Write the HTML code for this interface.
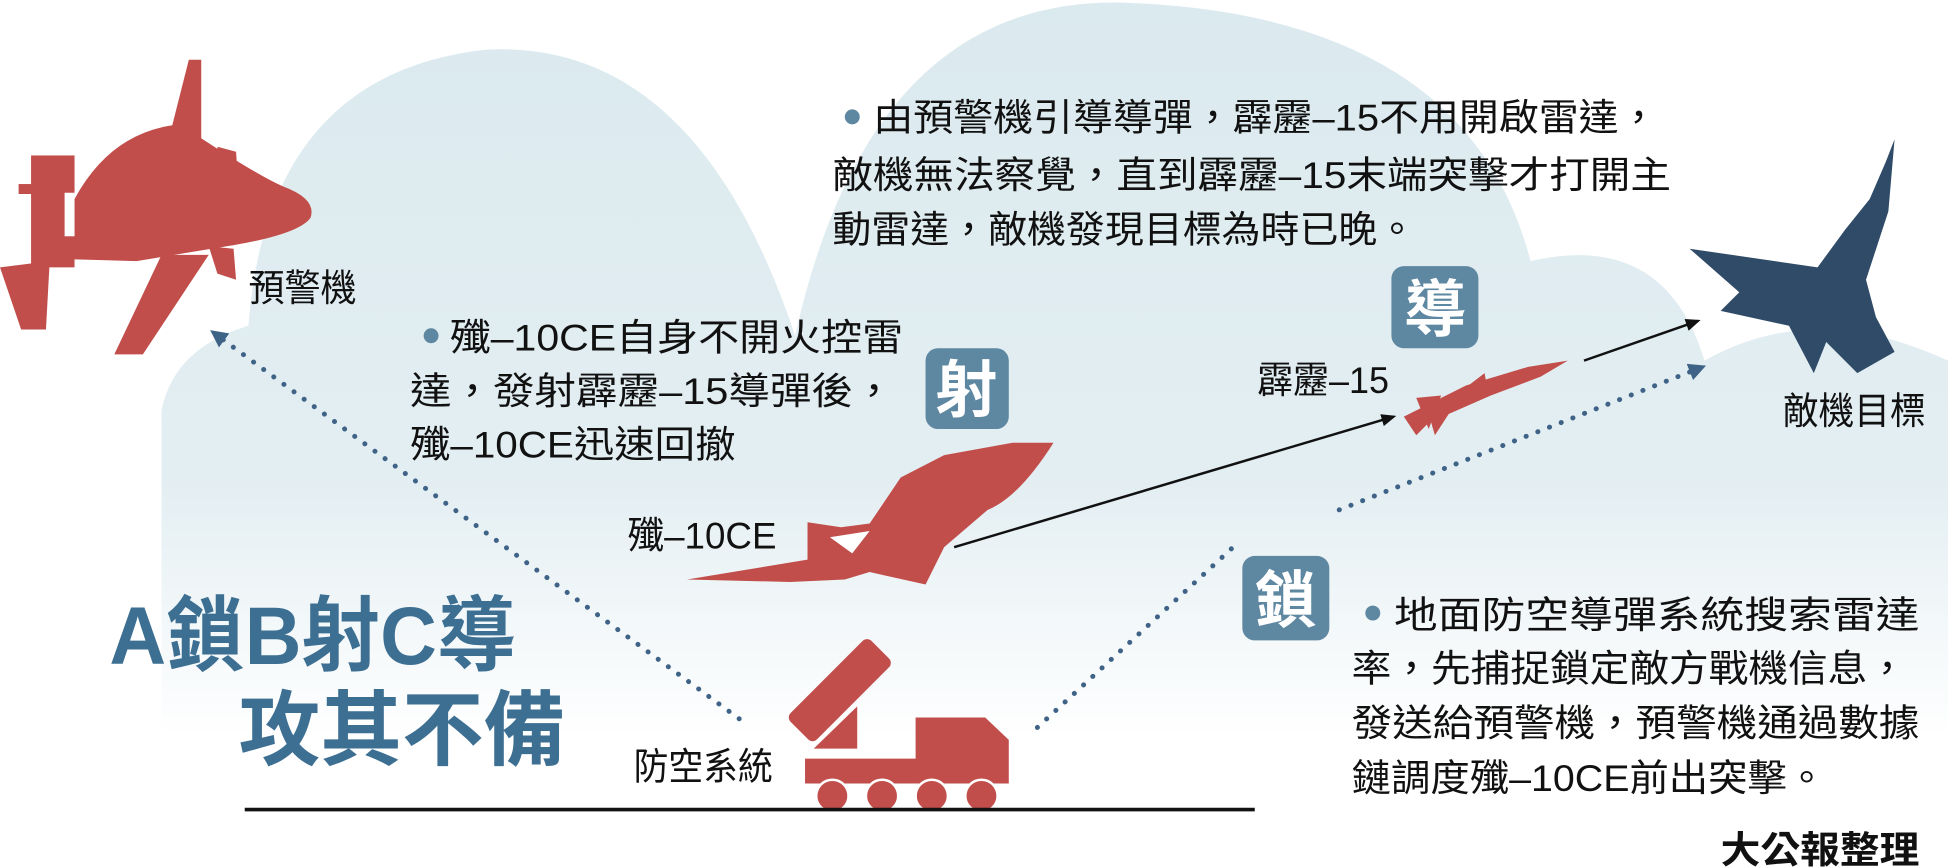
<!DOCTYPE html>
<html><head><meta charset="utf-8"><style>
html,body{margin:0;padding:0;background:#fff;width:1948px;height:868px;overflow:hidden}
svg{display:block}
text{font-family:"Liberation Sans","Noto Sans CJK TC",sans-serif;}
</style></head><body>
<svg width="1948" height="868" viewBox="0 0 1568 698" preserveAspectRatio="none" xmlns="http://www.w3.org/2000/svg">
<defs>
<linearGradient id="g" x1="0" y1="0" x2="0" y2="1">
<stop offset="0" stop-color="#dbeaef"/><stop offset="0.55" stop-color="#e3eef2"/><stop offset="0.85" stop-color="#ffffff"/>
</linearGradient>
<clipPath id="c"><rect x="0" y="0" width="1568" height="698"/></clipPath>
<marker id="ab" markerUnits="userSpaceOnUse" markerWidth="14" markerHeight="14" refX="3" refY="7" orient="auto"><path d="M0,0 L14,7 L0,14 z" fill="#3f6387"/></marker>
<marker id="ak" markerUnits="userSpaceOnUse" markerWidth="12" markerHeight="10" refX="10" refY="5" orient="auto"><path d="M0,0 L12,5 L0,10 z" fill="#111"/></marker>
</defs>
<g clip-path="url(#c)" fill="url(#g)">
<path d="M130,698 L130,330 Q140,280 200,262 Q215,60 390,40 Q560,30 640,270 Q700,0 900,2 Q1180,10 1232,210 Q1340,185 1372,290 Q1460,240 1568,290 L1568,698 Z"/>
</g>
<line x1="595" y1="578" x2="178" y2="272" stroke="#3f6387" stroke-width="4" stroke-linecap="round" stroke-dasharray="0.1 10" marker-end="url(#ab)"/>
<line x1="835" y1="585" x2="998" y2="435" stroke="#3f6387" stroke-width="4" stroke-linecap="round" stroke-dasharray="0.1 10"/>
<line x1="1078" y1="410" x2="1363" y2="298" stroke="#3f6387" stroke-width="4" stroke-linecap="round" stroke-dasharray="0.1 10" marker-end="url(#ab)"/>
<line x1="768" y1="440" x2="1122" y2="335" stroke="#111" stroke-width="2" marker-end="url(#ak)"/>
<line x1="1275" y1="290" x2="1367" y2="258" stroke="#111" stroke-width="2" marker-end="url(#ak)"/>
<!-- AEW plane -->
<g fill="#c24e4b">
<polygon points="152,48 162,48 162,135 130,135"/>
<polygon points="130,205 168,205 115,285 92,285"/>
<path d="M60,160 Q90,105 145,100 Q205,140 228,150 Q255,160 250,175 Q240,190 170,200 L110,210 L40,208 Z"/>
<rect x="25" y="125" width="35" height="90"/>
<polygon points="0,215 40,210 37,265 17,265"/>
<rect x="15" y="148" width="18" height="8"/>
<polygon points="175,118 190,122 192,150 178,150"/>
<polygon points="168,198 188,200 190,225 175,220"/>
</g>
<rect x="52" y="155" width="8" height="35" fill="#fff"/>
<!-- J-10CE -->
<g fill="#c24e4b">
<path d="M553,466 L650,450 L650,420 L677,424 L700,421 L725,384 L760,366 L815,356 L848,356 Q820,400 795,410 L760,440 L745,470 L700,460 L680,466 L636,468 Z"/>
</g>
<polygon points="668,432 700,427 686,445" fill="#fff"/>
<!-- missile -->
<g fill="#c24e4b">
<polygon points="1130,335 1180,310 1230,295 1262,290 1240,303 1200,318 1150,340 1140,350"/>
<polygon points="1140,320 1160,318 1150,345"/>
<polygon points="1150,333 1168,330 1155,350"/>
<polygon points="1182,310 1195,300 1198,318"/>
</g>
<!-- enemy plane -->
<g fill="#2f4b68">
<path d="M1525,112 L1518,130 L1505,160 L1485,185 L1463,215 L1360,200 L1400,235 L1385,250 L1440,262 L1460,300 L1470,275 L1495,300 L1525,283 L1510,255 L1502,225 L1520,170 Z"/>
</g>
<!-- truck -->
<g fill="#c24e4b">
<rect x="630" y="540" width="92" height="30" rx="5" transform="rotate(-45 676 555)"/>
<polygon points="655,602 690,568 690,602"/>
<path d="M648,610 L737,610 L737,577 L793,577 L812,595 L812,630 L648,630 Z"/>
<circle cx="670" cy="640" r="13" stroke="#fff" stroke-width="2"/>
<circle cx="710" cy="640" r="13" stroke="#fff" stroke-width="2"/>
<circle cx="750" cy="640" r="13" stroke="#fff" stroke-width="2"/>
<circle cx="790" cy="640" r="13" stroke="#fff" stroke-width="2"/>
</g>
<line x1="197" y1="651" x2="1010" y2="651" stroke="#111" stroke-width="3"/>
<g fill="#5e87a1">
<rect x="745" y="280" width="67" height="65" rx="10"/>
<rect x="1120" y="214" width="70" height="66" rx="10"/>
<rect x="1000" y="447" width="70" height="68" rx="10"/>
</g>
<g fill="#fff" font-size="50" font-weight="bold" text-anchor="middle">
<text x="778" y="331">射</text>
<text x="1155" y="266">導</text>
<text x="1035" y="500">鎖</text>
</g>
<g fill="#5e87a1">
<circle cx="686" cy="94" r="6"/><circle cx="347" cy="270" r="6"/><circle cx="1105" cy="493" r="6"/>
</g>
<g fill="#111" font-size="30" lengthAdjust="spacingAndGlyphs">
<text x="703" y="105" textLength="632" lengthAdjust="spacingAndGlyphs">由預警機引導導彈，霹靂–15不用開啟雷達，</text>
<text x="670" y="151" textLength="675" lengthAdjust="spacingAndGlyphs">敵機無法察覺，直到霹靂–15末端突擊才打開主</text>
<text x="670" y="195" textLength="470" lengthAdjust="spacingAndGlyphs">動雷達，敵機發現目標為時已晚。</text>
<text x="362" y="282" textLength="365" lengthAdjust="spacingAndGlyphs">殲–10CE自身不開火控雷</text>
<text x="330" y="325" textLength="390" lengthAdjust="spacingAndGlyphs">達，發射霹靂–15導彈後，</text>
<text x="330" y="368" textLength="262" lengthAdjust="spacingAndGlyphs">殲–10CE迅速回撤</text>
<text x="1122" y="505" textLength="423" lengthAdjust="spacingAndGlyphs">地面防空導彈系統搜索雷達</text>
<text x="1088" y="548" textLength="447" lengthAdjust="spacingAndGlyphs">率，先捕捉鎖定敵方戰機信息，</text>
<text x="1088" y="592" textLength="457" lengthAdjust="spacingAndGlyphs">發送給預警機，預警機通過數據</text>
<text x="1088" y="636" textLength="382" lengthAdjust="spacingAndGlyphs">鏈調度殲–10CE前出突擊。</text>
<text x="200" y="242" textLength="87" lengthAdjust="spacingAndGlyphs">預警機</text>
<text x="505" y="441" textLength="120" lengthAdjust="spacingAndGlyphs">殲–10CE</text>
<text x="1012" y="316" textLength="106" lengthAdjust="spacingAndGlyphs">霹靂–15</text>
<text x="1435" y="341" textLength="115" lengthAdjust="spacingAndGlyphs">敵機目標</text>
<text x="510" y="627" textLength="112" lengthAdjust="spacingAndGlyphs">防空系統</text>
<text x="1385" y="694" font-weight="bold" textLength="160" lengthAdjust="spacingAndGlyphs">大公報整理</text>
</g>
<g fill="#3d6f92" font-size="66" font-weight="bold">
<text x="88" y="534" textLength="327" lengthAdjust="spacingAndGlyphs">A鎖B射C導</text>
<text x="192" y="610" textLength="263" lengthAdjust="spacingAndGlyphs">攻其不備</text>
</g>
</svg>
</body></html>
